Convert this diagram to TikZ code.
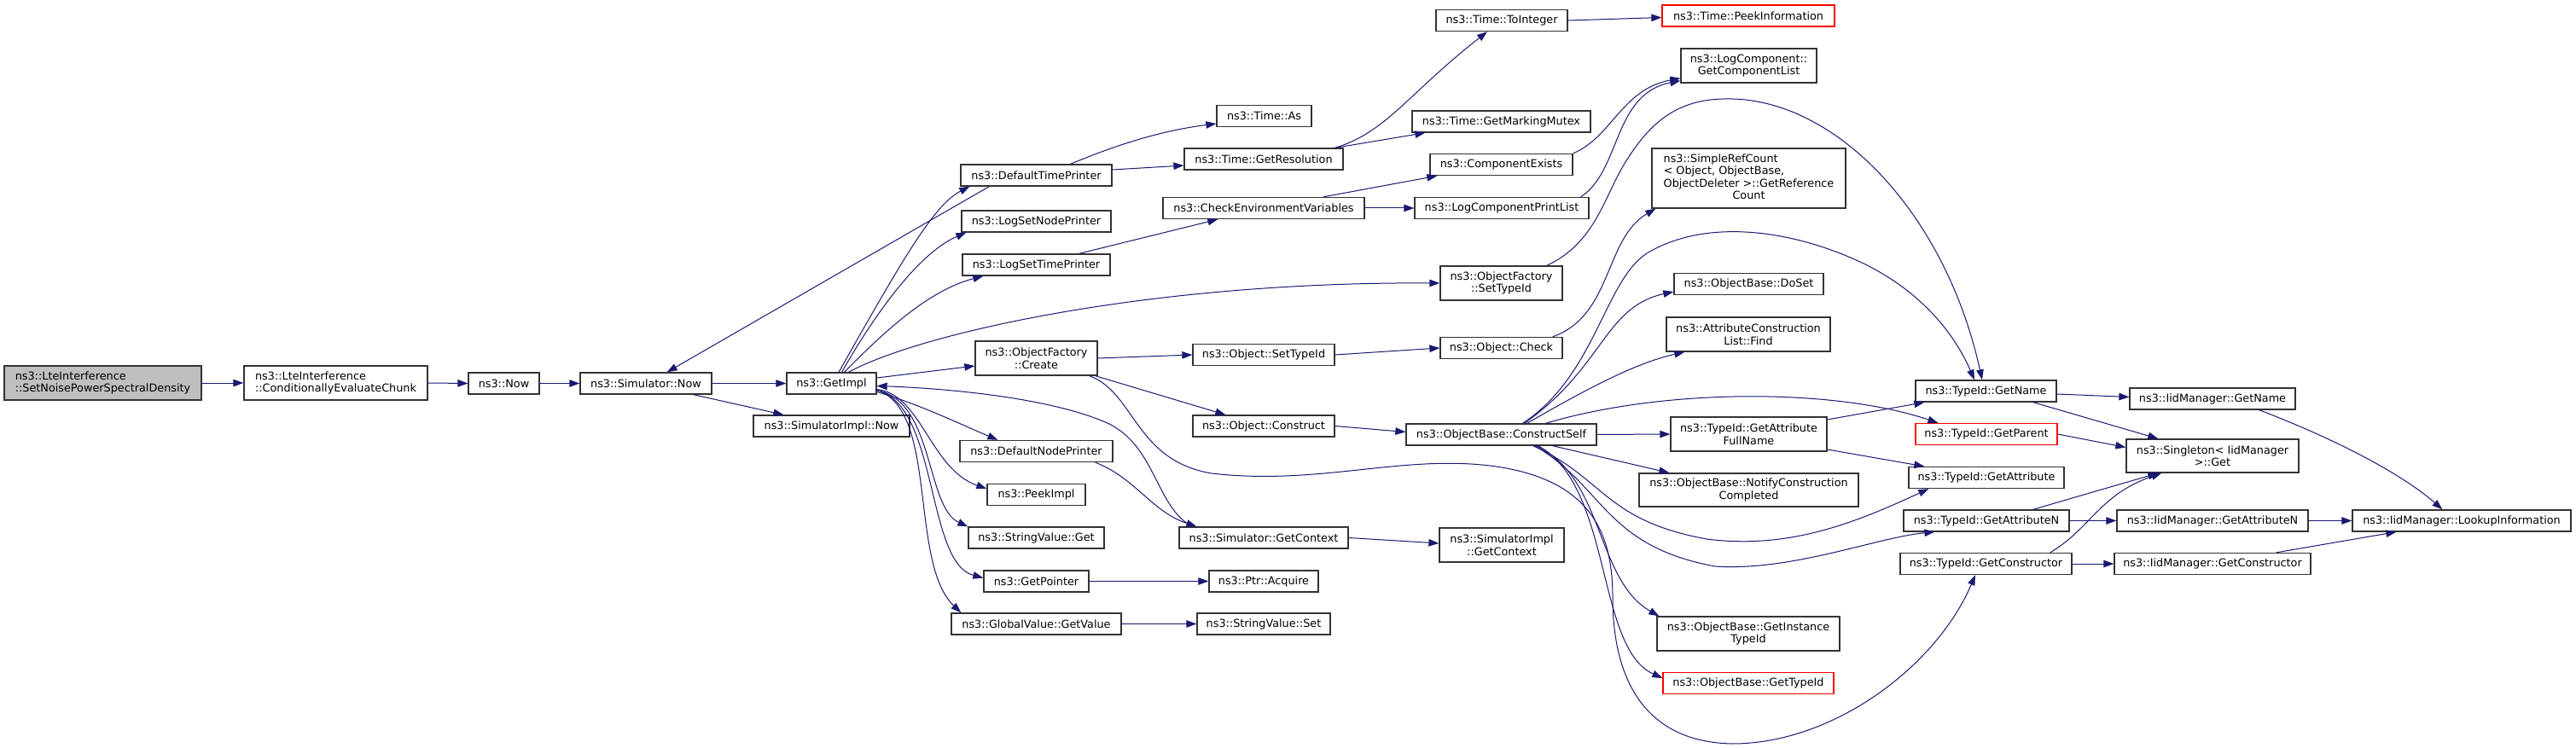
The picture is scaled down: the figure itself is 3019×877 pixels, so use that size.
\documentclass[tikz,border=0pt]{standalone}
\usepackage{fontspec}
\setmainfont{DejaVu Sans}
\usetikzlibrary{arrows.meta}
\definecolor{edgeblue}{HTML}{191970}
\tikzset{
  fn/.style={draw=black!80, line width=1.3pt, fill=white, inner sep=0pt, minimum height=25pt, align=center, font=\fontsize{12.8}{14.5}\selectfont},
  fnred/.style={fn, draw=red},
  call/.style={draw=edgeblue, line width=1pt, -{Triangle[length=12pt,width=8.5pt]}},
}
\begin{document}
\begin{tikzpicture}[x=1pt,y=-1pt]
\fill[white] (0,0) rectangle (3019,877);
\useasboundingbox (0,0) rectangle (3019,877);
% column 0-1
\node[fn, fill=black!25, align=left, minimum width=231pt, minimum height=40pt] (root) at (120.5,449) {ns3::LteInterference\\::SetNoisePowerSpectralDensity};
\node[fn, align=left, minimum width=215pt, minimum height=40pt] (cond) at (393.5,449) {ns3::LteInterference\\::ConditionallyEvaluateChunk};
\node[fn, minimum width=83pt] (now) at (590.5,449.5) {ns3::Now};
\node[fn, minimum width=154pt] (simnow) at (757,449.5) {ns3::Simulator::Now};
\node[fn, minimum width=105pt] (getimpl) at (974.5,449.5) {ns3::GetImpl};
\node[fn, minimum width=183pt] (implnow) at (974.5,499.5) {ns3::SimulatorImpl::Now};
% column 2
\node[fn, minimum width=177pt] (dtp) at (1214.5,205.5) {ns3::DefaultTimePrinter};
\node[fn, minimum width=175pt] (lsnp) at (1214.5,259.5) {ns3::LogSetNodePrinter};
\node[fn, minimum width=173pt] (lstp) at (1214.5,310.5) {ns3::LogSetTimePrinter};
\node[fn, minimum width=143pt, minimum height=40pt] (create) at (1214.5,420) {ns3::ObjectFactory\\::Create};
\node[fn, minimum width=179pt] (dnp) at (1214.5,529) {ns3::DefaultNodePrinter};
\node[fn, minimum width=115pt] (peek) at (1214.5,580) {ns3::PeekImpl};
\node[fn, minimum width=159pt] (svget) at (1214.5,630.5) {ns3::StringValue::Get};
\node[fn, minimum width=123pt] (getptr) at (1214.5,681.5) {ns3::GetPointer};
\node[fn, minimum width=199pt] (gvget) at (1214.5,731.5) {ns3::GlobalValue::GetValue};
% column 3
\node[fn, minimum width=111pt] (timeas) at (1481.5,136) {ns3::Time::As};
\node[fn, minimum width=186pt] (getres) at (1481,186.5) {ns3::Time::GetResolution};
\node[fn, minimum width=236pt] (checkenv) at (1481,244) {ns3::CheckEnvironmentVariables};
\node[fn, minimum width=166pt] (objsettid) at (1481,416) {ns3::Object::SetTypeId};
\node[fn, minimum width=166pt] (objconstruct) at (1481,499.5) {ns3::Object::Construct};
\node[fn, minimum width=198pt] (simctx) at (1481,630.5) {ns3::Simulator::GetContext};
\node[fn, minimum width=128pt] (acquire) at (1481,681.5) {ns3::Ptr::Acquire};
\node[fn, minimum width=156pt] (svset) at (1481,731.5) {ns3::StringValue::Set};
% column 4
\node[fn, minimum width=154pt] (toint) at (1760,24) {ns3::Time::ToInteger};
\node[fn, minimum width=209pt] (mutex) at (1759.5,142.5) {ns3::Time::GetMarkingMutex};
\node[fn, minimum width=167pt] (compexists) at (1759.5,193) {ns3::ComponentExists};
\node[fn, minimum width=204pt] (printlist) at (1760,244) {ns3::LogComponentPrintList};
\node[fn, minimum width=143pt, minimum height=40pt] (ofsettid) at (1759.5,332) {ns3::ObjectFactory\\::SetTypeId};
\node[fn, minimum width=143pt] (check) at (1759.5,408) {ns3::Object::Check};
\node[fn, minimum width=223pt] (cself) at (1759.5,509.5) {ns3::ObjectBase::ConstructSelf};
\node[fn, minimum width=146pt, minimum height=40pt] (implctx) at (1760,639) {ns3::SimulatorImpl\\::GetContext};
% column 5
\node[fnred, minimum width=202pt] (peekinfo) at (2049,18.5) {ns3::Time::PeekInformation};
\node[fn, minimum width=159pt, minimum height=40pt] (complist) at (2049.5,77) {ns3::LogComponent::\\GetComponentList};
\node[fn, minimum width=227pt, minimum height=70pt] (refcount) at (2049.5,209) {\begin{tabular}{@{}l@{}}ns3::SimpleRefCount\\< Object, ObjectBase,\\ ObjectDeleter >::GetReference\\\multicolumn{1}{@{}c@{}}{Count}\end{tabular}};
\node[fn, minimum width=175pt] (doset) at (2049.5,333) {ns3::ObjectBase::DoSet};
\node[fn, minimum width=192pt, minimum height=40pt] (find) at (2049,392) {ns3::AttributeConstruction\\List::Find};
\node[fn, minimum width=183pt, minimum height=40pt] (fullname) at (2049.5,509) {ns3::TypeId::GetAttribute\\FullName};
\node[fn, minimum width=257pt, minimum height=39pt] (notify) at (2049.5,574.5) {ns3::ObjectBase::NotifyConstruction\\Completed};
\node[fn, minimum width=214pt, minimum height=40pt] (insttid) at (2049,743) {ns3::ObjectBase::GetInstance\\TypeId};
\node[fnred, minimum width=200pt] (gettid) at (2049,801) {ns3::ObjectBase::GetTypeId};
% column 6-8
\node[fn, minimum width=165pt] (tidname) at (2327.5,458.5) {ns3::TypeId::GetName};
\node[fnred, minimum width=166pt] (tidparent) at (2328,509) {ns3::TypeId::GetParent};
\node[fn, minimum width=182pt] (tidattr) at (2328,560) {ns3::TypeId::GetAttribute};
\node[fn, minimum width=194pt] (tidattrn) at (2328,610.5) {ns3::TypeId::GetAttributeN};
\node[fn, minimum width=201pt] (tidctor) at (2327.5,661) {ns3::TypeId::GetConstructor};
\node[fn, minimum width=194pt] (iidname) at (2593,467.5) {ns3::IidManager::GetName};
\node[fn, minimum width=202pt, minimum height=39pt] (singleton) at (2593,534.5) {ns3::Singleton< IidManager\\>::Get};
\node[fn, minimum width=224pt] (iidattrn) at (2593,610.5) {ns3::IidManager::GetAttributeN};
\node[fn, minimum width=230pt] (iidctor) at (2593,661) {ns3::IidManager::GetConstructor};
\node[fn, minimum width=256pt] (lookup) at (2885,610.5) {ns3::IidManager::LookupInformation};
% straight calls
\foreach \a/\b in {root/cond, cond/now, now/simnow, simnow/getimpl, create/objsettid, objsettid/check, checkenv/printlist, getptr/acquire, gvget/svset, cself/fullname, tidattrn/iidattrn, iidattrn/lookup, tidctor/iidctor}
  \draw[call] (\a.east) -- (\b.west);
\draw[call] ([xshift=-22pt]simnow.south east) -- ([xshift=36pt]implnow.north west);
\draw[call] ([xshift=34pt]dtp.south west) -- ([xshift=-53pt]simnow.north east);
\draw[call] ([xshift=8.5pt]getimpl.north) .. controls (1060,300) and (1095,240) .. ([xshift=11pt]dtp.south west);
\draw[call] ([xshift=12pt]getimpl.north) .. controls (1030,360) and (1080,295) .. ([xshift=6pt]lsnp.south west);
\draw[call] ([xshift=15pt]getimpl.north) .. controls (1040,385) and (1090,340) .. ([xshift=25pt]lstp.south west);
\draw[call] ([xshift=20pt]getimpl.north) .. controls (1080,390) and (1350,330) .. (ofsettid.west);
\draw[call] ([yshift=6.5pt]getimpl.east) -- ([yshift=-9pt]create.west);
\draw[call] ([xshift=16pt]simctx.north west) .. controls (1355,595) and (1355,525) .. (1300,497) .. controls (1230,465) and (1100,455) .. ([yshift=-3pt]getimpl.east);
\draw[call] ([yshift=-10pt]getimpl.east) .. controls (1080,475) and (1120,495) .. ([xshift=45pt]dnp.north west);
\draw[call] ([yshift=-7pt]getimpl.east) .. controls (1080,462) and (1090,550) .. ([yshift=7pt]peek.west);
\draw[call] ([yshift=-8pt]getimpl.east) .. controls (1095,470) and (1085,595) .. (svget.north west);
\draw[call] ([yshift=-8pt]getimpl.east) .. controls (1100,475) and (1085,660) .. ([yshift=4pt]getptr.west);
\draw[call] ([yshift=-8pt]getimpl.east) .. controls (1100,480) and (1065,660) .. ([xshift=12pt]gvget.north west);
\draw[call] ([xshift=40pt]dtp.north) .. controls (1320,165) and (1370,152) .. ([yshift=-9pt]timeas.west);
\draw[call] ([yshift=6.5pt]dtp.east) -- ([yshift=-7.5pt]getres.west);
\draw[call] ([xshift=-10pt]getres.north east) .. controls (1625,155) and (1650,110) .. ([xshift=-17pt]toint.south);
\draw[call] ([xshift=-10pt]getres.north east) -- ([xshift=16pt]mutex.south west);
\draw[call] ([xshift=70pt]checkenv.north) -- ([xshift=9pt]compexists.south west);
\draw[call] ([xshift=50pt]lstp.north) -- ([xshift=65pt]checkenv.south west);
\draw[call] (toint.east) -- ([yshift=-2pt]peekinfo.west);
\draw[call] (compexists.north east) .. controls (1890,160) and (1900,105) .. ([yshift=6pt]complist.south west);
\draw[call] ([xshift=-10pt]printlist.north east) .. controls (1900,200) and (1890,110) .. ([yshift=3pt]complist.south west);
\draw[call] ([xshift=-19pt]ofsettid.north east) .. controls (1870,285) and (1880,230) .. (1905,190) .. controls (1930,150) and (1960,117) .. (2020,116) .. controls (2150,112) and (2280,250) .. ([xshift=-4.5pt]tidname.north);
\draw[call] ([xshift=-12pt]check.north east) .. controls (1890,370) and (1880,280) .. ([xshift=5pt]refcount.south west);
\draw[call] ([xshift=25pt]cself.north) .. controls (1870,440) and (1880,330) .. (1930,297) .. controls (2000,255) and (2100,270) .. (2180,307) .. controls (2250,340) and (2290,390) .. ([xshift=-13.5pt]tidname.north);
\draw[call] ([xshift=27pt]cself.north) .. controls (1880,430) and (1880,360) .. ([yshift=-9pt]doset.west);
\draw[call] ([xshift=30pt]cself.north) .. controls (1870,450) and (1920,425) .. ([xshift=22pt]find.south west);
\draw[call] ([xshift=52pt]cself.north) .. controls (1950,455) and (2150,455) .. ([xshift=27pt]tidparent.north west);
\draw[call] ([xshift=60pt]cself.south) -- ([xshift=36pt]notify.north west);
\draw[call] ([yshift=17pt]fullname.east) -- ([xshift=11pt]tidname.south west);
\draw[call] ([yshift=-18pt]fullname.east) -- ([xshift=19pt]tidattr.north west);
\draw[call] ([xshift=37pt]cself.south) .. controls (1880,560) and (1880,610) .. (2000,632) .. controls (2100,645) and (2180,610) .. ([xshift=24pt]tidattr.south west);
\draw[call] ([xshift=39pt]cself.south) .. controls (1880,570) and (1880,640) .. (2010,664) .. controls (2100,670) and (2200,630) .. ([xshift=37pt]tidattrn.south west);
\draw[call] ([xshift=41pt]cself.south) .. controls (1880,560) and (1870,680) .. ([xshift=3pt]insttid.north west);
\draw[call] ([xshift=43pt]cself.south) .. controls (1890,570) and (1870,760) .. ([yshift=6pt]gettid.west);
\draw[call] ([xshift=-10pt]create.south east) .. controls (1330,460) and (1330,540) .. (1420,555) .. controls (1550,570) and (1650,530) .. (1760,548) .. controls (1860,565) and (1890,620) .. (1890,700) .. controls (1890,800) and (1930,870) .. (2030,872) .. controls (2150,872) and (2270,780) .. ([xshift=-12.5pt]tidctor.south);
\draw[call] ([xshift=-3pt]create.south east) -- ([xshift=39pt]objconstruct.north west);
\draw[call] (objconstruct.east) -- ([yshift=3pt]cself.west);
\draw[call] ([xshift=-21pt]dnp.south east) .. controls (1330,560) and (1350,600) .. ([xshift=21pt]simctx.north west);
\draw[call] (simctx.east) -- ([yshift=2pt]implctx.west);
\draw[call] ([yshift=-3.5pt]tidname.east) -- ([yshift=2pt]iidname.west);
\draw[call] ([xshift=-28pt]tidname.south east) -- ([xshift=38pt]singleton.north west);
\draw[call] (tidparent.east) -- ([yshift=10pt]singleton.west);
\draw[call] ([xshift=-43pt]tidattrn.north east) -- ([xshift=38pt]singleton.south west);
\draw[call] ([xshift=-26pt]tidctor.north east) .. controls (2450,620) and (2460,580) .. ([xshift=42pt]singleton.south west);
\draw[call] ([xshift=-41pt]iidctor.north east) -- ([xshift=52pt]lookup.south west);
\draw[call] ([xshift=-43pt]iidname.south east) .. controls (2750,520) and (2820,560) .. ([xshift=106pt]lookup.north west);
\end{tikzpicture}
\end{document}
